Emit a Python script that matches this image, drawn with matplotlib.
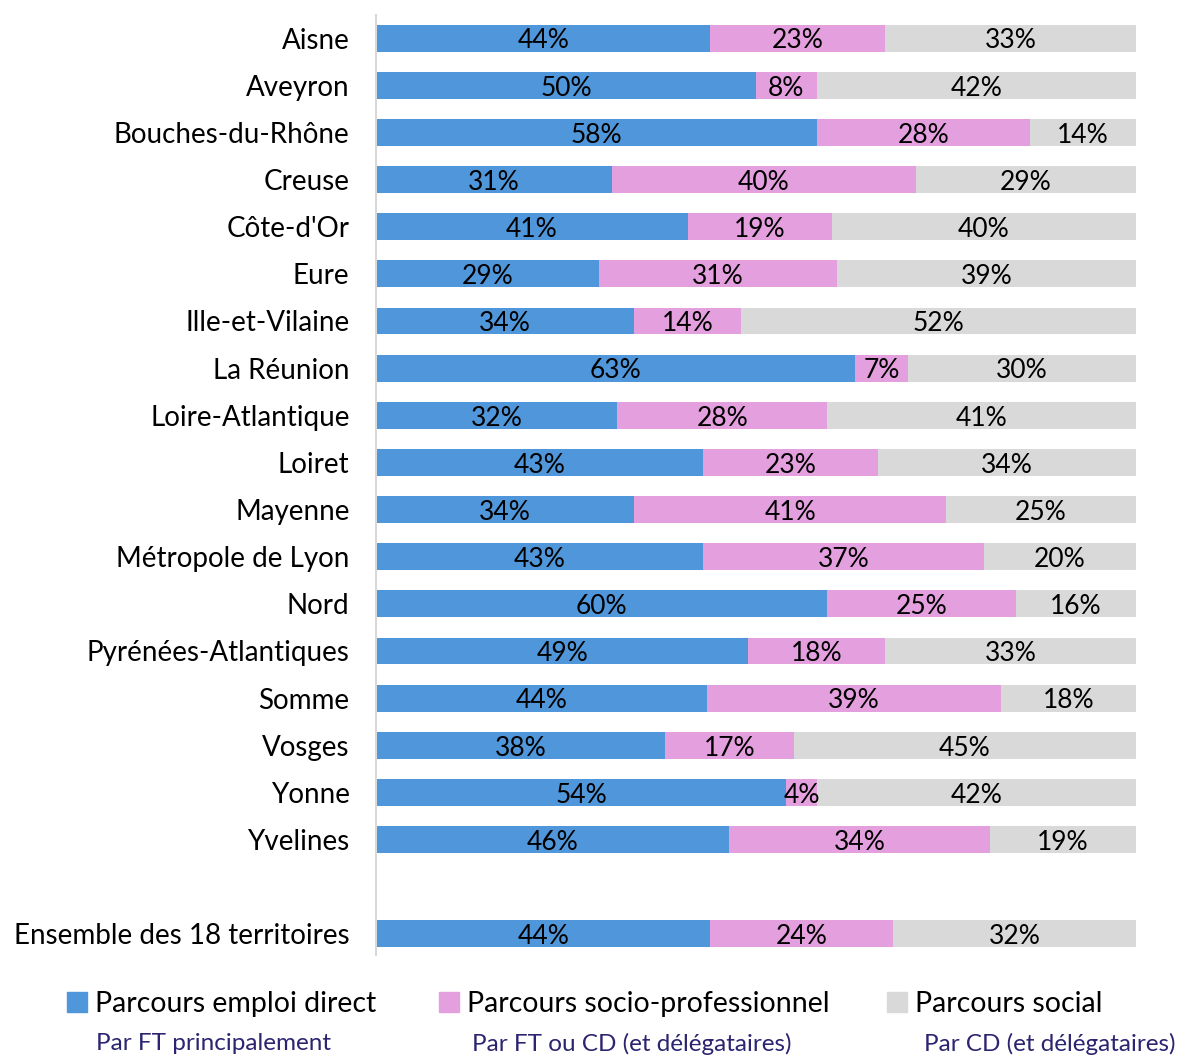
import matplotlib
matplotlib.use("Agg")
import matplotlib.pyplot as plt
from matplotlib.patches import Patch
import numpy as np

plt.rcParams['font.family'] = ['Lato', 'DejaVu Sans']

territoires = ["Aisne", "Aveyron", "Bouches-du-Rhône", "Creuse", "Côte-d'Or", "Eure",
               "Ille-et-Vilaine", "La Réunion", "Loire-Atlantique", "Loiret", "Mayenne",
               "Métropole de Lyon", "Nord", "Pyrénées-Atlantiques", "Somme", "Vosges",
               "Yonne", "Yvelines", "Ensemble des 18 territoires"]
emploi_direct = [44, 50, 58, 31, 41, 29, 34, 63, 32, 43, 34, 43, 60, 49, 44, 38, 54, 46, 44]
socio_pro = [23, 8, 28, 40, 19, 31, 14, 7, 28, 23, 41, 37, 25, 18, 39, 17, 4, 34, 24]
social = [33, 42, 14, 29, 40, 39, 52, 30, 41, 34, 25, 20, 16, 33, 18, 45, 42, 19, 32]

series_noms = ["Parcours emploi direct", "Parcours socio-professionnel", "Parcours social"]
sous_titres = ["Par FT principalement", "Par FT ou CD (et délégataires)", "Par CD (et délégataires)"]
couleurs = ["#5096DA", "#E49FDE", "#D9D9D9"]

# positions : 18 territoires, une ligne vide, puis l'ensemble
pos = list(range(18)) + [19]

data = np.array([emploi_direct, socio_pro, social], dtype=float)
parts = data / data.sum(axis=0) * 100  # barres à 100 %

fig = plt.figure(figsize=(11.79, 10.55), dpi=100)
ax = fig.add_axes([376 / 1179, 1 - 955 / 1055, 760 / 1179, 940 / 1055])

gauche = np.zeros(len(pos))
for i in range(3):
    ax.barh(pos, parts[i], left=gauche, height=0.57, color=couleurs[i], edgecolor="none")
    for y, g, w, v in zip(pos, gauche, parts[i], data[i]):
        ax.text(g + w / 2, y + 0.06, f"{int(v)}%", ha="center", va="center",
                fontsize=19, color="black")
    gauche += parts[i]

ax.set_xlim(0, 100)
ax.set_ylim(19.45, -0.49)
ax.set_yticks(pos)
ax.set_yticklabels(territoires, fontsize=20)
ax.tick_params(axis="y", length=0, pad=19)
ax.set_xticks([])
for s in ["top", "right", "bottom"]:
    ax.spines[s].set_visible(False)
ax.spines["left"].set_color("#D9D9D9")
ax.spines["left"].set_linewidth(1.5)

# légende en bas
legende_x = [41, 413, 861]
for nom, c, lx in zip(series_noms, couleurs, legende_x):
    fig.legend(handles=[Patch(color=c)], labels=[nom], loc="center left",
               bbox_to_anchor=(lx / 1179, 1 - 1004 / 1055), frameon=False,
               fontsize=20.5, handlelength=0.7, handleheight=0.7, handletextpad=0.3)

sous_x = [96, 472, 924]
for t, sx in zip(sous_titres, sous_x):
    fig.text(sx / 1179, 1 - 1044 / 1055, t, fontsize=17.5, color="#2B2470",
             ha="left", va="center")

fig.savefig("out.png", dpi=100)
